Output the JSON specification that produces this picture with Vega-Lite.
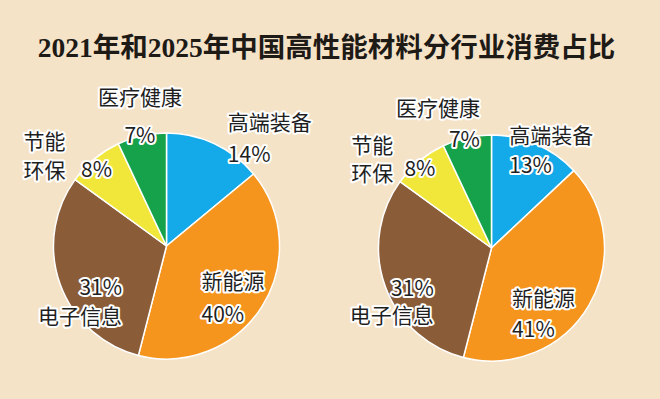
{
  "$schema": "https://vega.github.io/schema/vega-lite/v6.json",
  "background": "#f5e3c8",
  "padding": {"left": 0, "right": 14, "top": 34, "bottom": 0},
  "spacing": 0,
  "title": {
    "text": "2021年和2025年中国高性能材料分行业消费占比",
    "anchor": "middle",
    "fontSize": 27.5,
    "font": "Liberation Serif, Noto Sans CJK SC",
    "fontWeight": "bold",
    "color": "#1e1a16",
    "offset": 26
  },
  "config": {
    "view": {"stroke": null},
    "text": {"font": "Noto Sans CJK SC", "fontSize": 21, "baseline": "middle", "lineBreak": "\n"}
  },
  "datasets": {
    "d2021": [
      {"cat": "高端装备", "value": 14, "idx": 1, "label": "高端装备\n14%", "pct": "14%"},
      {"cat": "新能源", "value": 40, "idx": 2, "label": "新能源\n40%", "pct": "40%"},
      {"cat": "电子信息", "value": 31, "idx": 3, "label": "31%\n电子信息", "pct": "31%"},
      {"cat": "节能环保", "value": 8, "idx": 4, "label": "节能\n环保", "pct": "8%"},
      {"cat": "医疗健康", "value": 7, "idx": 5, "label": "医疗健康\n7%", "pct": "7%"}
    ],
    "d2025": [
      {"cat": "高端装备", "value": 13, "idx": 1, "label": "高端装备\n13%", "pct": "13%"},
      {"cat": "新能源", "value": 41, "idx": 2, "label": "新能源\n41%", "pct": "41%"},
      {"cat": "电子信息", "value": 31, "idx": 3, "label": "31%\n电子信息", "pct": "31%"},
      {"cat": "节能环保", "value": 8, "idx": 4, "label": "节能\n环保", "pct": "8%"},
      {"cat": "医疗健康", "value": 7, "idx": 5, "label": "医疗健康\n7%", "pct": "7%"}
    ]
  },
  "hconcat": [
    {
      "width": 323,
      "height": 298,
      "data": {"name": "d2021"},
      "encoding": {
        "theta": {"field": "value", "type": "quantitative", "stack": true},
        "order": {"field": "idx", "type": "quantitative"},
        "detail": {"field": "cat", "type": "nominal"}
      },
      "layer": [
        {"mark": {"type": "arc", "radius": 113, "stroke": "#ffffff", "strokeWidth": 1.5},
         "encoding": {"color": {"field": "cat", "type": "nominal", "legend": null,
           "scale": {"domain": ["高端装备", "新能源", "电子信息", "节能环保", "医疗健康"],
                     "range": ["#14a9e8", "#f5951d", "#8a5c38", "#f1e73a", "#15a24a"]}}}},
        {"mark": {"type": "text", "fill": "#ffffff", "stroke": "#ffffff", "strokeWidth": 4, "strokeJoin": "round", "radius": 123, "dx": 9, "dy": -11, "align": "left", "lineHeight": 32},
         "encoding": {"text": {"condition": {"test": "datum.cat==='高端装备'", "field": "label", "type": "nominal"}, "value": ""}}},
        {"mark": {"type": "text", "fill": "#ffffff", "stroke": "#ffffff", "strokeWidth": 4, "strokeJoin": "round", "radius": 58, "dx": -14, "dy": 5.5, "align": "left", "lineHeight": 33},
         "encoding": {"text": {"condition": {"test": "datum.cat==='新能源'", "field": "label", "type": "nominal"}, "value": ""}}},
        {"mark": {"type": "text", "fill": "#ffffff", "stroke": "#ffffff", "strokeWidth": 4, "strokeJoin": "round", "radius": 61, "dx": 13, "dy": 22.75, "align": "right", "lineHeight": 28.5},
         "encoding": {"text": {"condition": {"test": "datum.cat==='电子信息'", "field": "label", "type": "nominal"}, "value": ""}}},
        {"mark": {"type": "text", "fill": "#ffffff", "stroke": "#ffffff", "strokeWidth": 4, "strokeJoin": "round", "radius": 131, "dx": 2, "dy": -19, "align": "center", "lineHeight": 38},
         "encoding": {"text": {"condition": {"test": "datum.cat==='医疗健康'", "field": "label", "type": "nominal"}, "value": ""}}},
        {"mark": {"type": "text", "fill": "#ffffff", "stroke": "#ffffff", "strokeWidth": 4, "strokeJoin": "round", "radius": 146, "dx": -29, "dy": 9.75, "align": "center", "lineHeight": 28.5},
         "encoding": {"text": {"condition": {"test": "datum.cat==='节能环保'", "field": "label", "type": "nominal"}, "value": ""}}},
        {"mark": {"type": "text", "fill": "#ffffff", "stroke": "#ffffff", "strokeWidth": 4, "strokeJoin": "round", "radius": 102, "dx": -5, "dy": 4, "align": "center"},
         "encoding": {"text": {"condition": {"test": "datum.cat==='节能环保'", "field": "pct", "type": "nominal"}, "value": ""}}},
        {"mark": {"type": "text", "fill": "#1f1f1f", "radius": 123, "dx": 9, "dy": -11, "align": "left", "lineHeight": 32},
         "encoding": {"text": {"condition": {"test": "datum.cat==='高端装备'", "field": "label", "type": "nominal"}, "value": ""}}},
        {"mark": {"type": "text", "fill": "#1f1f1f", "radius": 58, "dx": -14, "dy": 5.5, "align": "left", "lineHeight": 33},
         "encoding": {"text": {"condition": {"test": "datum.cat==='新能源'", "field": "label", "type": "nominal"}, "value": ""}}},
        {"mark": {"type": "text", "fill": "#1f1f1f", "radius": 61, "dx": 13, "dy": 22.75, "align": "right", "lineHeight": 28.5},
         "encoding": {"text": {"condition": {"test": "datum.cat==='电子信息'", "field": "label", "type": "nominal"}, "value": ""}}},
        {"mark": {"type": "text", "fill": "#1f1f1f", "radius": 131, "dx": 2, "dy": -19, "align": "center", "lineHeight": 38},
         "encoding": {"text": {"condition": {"test": "datum.cat==='医疗健康'", "field": "label", "type": "nominal"}, "value": ""}}},
        {"mark": {"type": "text", "fill": "#1f1f1f", "radius": 146, "dx": -29, "dy": 9.75, "align": "center", "lineHeight": 28.5},
         "encoding": {"text": {"condition": {"test": "datum.cat==='节能环保'", "field": "label", "type": "nominal"}, "value": ""}}},
        {"mark": {"type": "text", "fill": "#1f1f1f", "radius": 102, "dx": -5, "dy": 4, "align": "center"},
         "encoding": {"text": {"condition": {"test": "datum.cat==='节能环保'", "field": "pct", "type": "nominal"}, "value": ""}}}
      ]
    },
    {
      "width": 323,
      "height": 302,
      "data": {"name": "d2025"},
      "encoding": {
        "theta": {"field": "value", "type": "quantitative", "stack": true},
        "order": {"field": "idx", "type": "quantitative"},
        "detail": {"field": "cat", "type": "nominal"}
      },
      "layer": [
        {"mark": {"type": "arc", "radius": 113, "stroke": "#ffffff", "strokeWidth": 1.5},
         "encoding": {"color": {"field": "cat", "type": "nominal", "legend": null,
           "scale": {"domain": ["高端装备", "新能源", "电子信息", "节能环保", "医疗健康"],
                     "range": ["#14a9e8", "#f5951d", "#8a5c38", "#f1e73a", "#15a24a"]}}}},
        {"mark": {"type": "text", "fill": "#ffffff", "stroke": "#ffffff", "strokeWidth": 4, "strokeJoin": "round", "radius": 95, "dx": -20, "dy": -24, "align": "left", "lineHeight": 30},
         "encoding": {"text": {"condition": {"test": "datum.cat==='高端装备'", "field": "label", "type": "nominal"}, "value": ""}}},
        {"mark": {"type": "text", "fill": "#ffffff", "stroke": "#ffffff", "strokeWidth": 4, "strokeJoin": "round", "radius": 53, "dx": -25, "dy": 25.5, "align": "left", "lineHeight": 31},
         "encoding": {"text": {"condition": {"test": "datum.cat==='新能源'", "field": "label", "type": "nominal"}, "value": ""}}},
        {"mark": {"type": "text", "fill": "#ffffff", "stroke": "#ffffff", "strokeWidth": 4, "strokeJoin": "round", "radius": 72, "dx": 10, "dy": 17.5, "align": "right", "lineHeight": 27},
         "encoding": {"text": {"condition": {"test": "datum.cat==='电子信息'", "field": "label", "type": "nominal"}, "value": ""}}},
        {"mark": {"type": "text", "fill": "#ffffff", "stroke": "#ffffff", "strokeWidth": 4, "strokeJoin": "round", "radius": 122, "dx": 15, "dy": -18.5, "align": "right", "lineHeight": 31},
         "encoding": {"text": {"condition": {"test": "datum.cat==='医疗健康'", "field": "label", "type": "nominal"}, "value": ""}}},
        {"mark": {"type": "text", "fill": "#ffffff", "stroke": "#ffffff", "strokeWidth": 4, "strokeJoin": "round", "radius": 143, "dx": -28, "dy": 9, "align": "center", "lineHeight": 28},
         "encoding": {"text": {"condition": {"test": "datum.cat==='节能环保'", "field": "label", "type": "nominal"}, "value": ""}}},
        {"mark": {"type": "text", "fill": "#ffffff", "stroke": "#ffffff", "strokeWidth": 4, "strokeJoin": "round", "radius": 106, "dx": -4, "dy": 4, "align": "center"},
         "encoding": {"text": {"condition": {"test": "datum.cat==='节能环保'", "field": "pct", "type": "nominal"}, "value": ""}}},
        {"mark": {"type": "text", "fill": "#1f1f1f", "radius": 95, "dx": -20, "dy": -24, "align": "left", "lineHeight": 30},
         "encoding": {"text": {"condition": {"test": "datum.cat==='高端装备'", "field": "label", "type": "nominal"}, "value": ""}}},
        {"mark": {"type": "text", "fill": "#1f1f1f", "radius": 53, "dx": -25, "dy": 25.5, "align": "left", "lineHeight": 31},
         "encoding": {"text": {"condition": {"test": "datum.cat==='新能源'", "field": "label", "type": "nominal"}, "value": ""}}},
        {"mark": {"type": "text", "fill": "#1f1f1f", "radius": 72, "dx": 10, "dy": 17.5, "align": "right", "lineHeight": 27},
         "encoding": {"text": {"condition": {"test": "datum.cat==='电子信息'", "field": "label", "type": "nominal"}, "value": ""}}},
        {"mark": {"type": "text", "fill": "#1f1f1f", "radius": 122, "dx": 15, "dy": -18.5, "align": "right", "lineHeight": 31},
         "encoding": {"text": {"condition": {"test": "datum.cat==='医疗健康'", "field": "label", "type": "nominal"}, "value": ""}}},
        {"mark": {"type": "text", "fill": "#1f1f1f", "radius": 143, "dx": -28, "dy": 9, "align": "center", "lineHeight": 28},
         "encoding": {"text": {"condition": {"test": "datum.cat==='节能环保'", "field": "label", "type": "nominal"}, "value": ""}}},
        {"mark": {"type": "text", "fill": "#1f1f1f", "radius": 106, "dx": -4, "dy": 4, "align": "center"},
         "encoding": {"text": {"condition": {"test": "datum.cat==='节能环保'", "field": "pct", "type": "nominal"}, "value": ""}}}
      ]
    }
  ]
}
